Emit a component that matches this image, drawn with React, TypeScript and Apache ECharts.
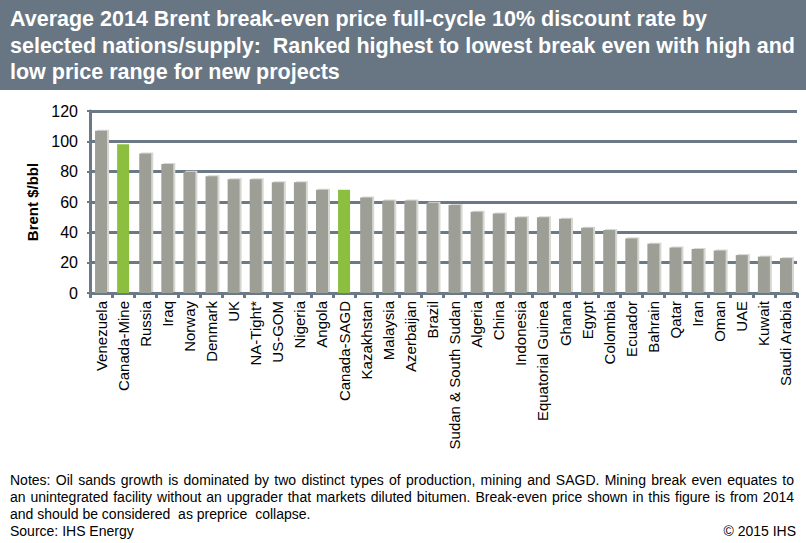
import React, { useEffect, useRef } from "react";
import * as echarts from "echarts";

const categories = [
  "Venezuela", "Canada-Mine", "Russia", "Iraq", "Norway", "Denmark", "UK", "NA-Tight*",
  "US-GOM", "Nigeria", "Angola", "Canada-SAGD", "Kazakhstan", "Malaysia", "Azerbaijan", "Brazil",
  "Sudan & South Sudan", "Algeria", "China", "Indonesia", "Equatorial Guinea", "Ghana", "Egypt", "Colombia",
  "Ecuador", "Bahrain", "Qatar", "Iran", "Oman", "UAE", "Kuwait", "Saudi Arabia",
];
const breakEven = [
  107, 98, 92, 85, 80, 77, 75, 75,
  73, 73, 68, 68, 63, 61, 61, 59.5,
  58, 53.5, 52.5, 50, 50, 49, 43, 41.5,
  36, 32.5, 30, 29, 28, 25, 24, 23,
];
const highlighted = ["Canada-Mine", "Canada-SAGD"];
const yTicks = [0, 20, 40, 60, 80, 100, 120];

const titleText =
  "Average 2014 Brent break-even price full-cycle 10% discount rate by\nselected nations/supply:  Ranked highest to lowest break even with high and\nlow price range for new projects";
const notesLines = [
  "Notes: Oil sands growth is dominated by two distinct types of production, mining and SAGD. Mining break even equates to",
  "an unintegrated facility without an upgrader that markets diluted bitumen. Break-even price shown in this figure is from 2014",
  "and should be considered  as preprice  collapse.",
];
const sourceText = "Source: IHS Energy";
const copyrightText = "© 2015 IHS";

const GRAY = "#9d9f96";
const GREEN = "#8cbf3f";
const AXIS = "#6b7886";
const FONT = "'Liberation Sans', Arial, sans-serif";

function justifiedLine(text: string, x0: number, x1: number, y: number, font: string): any[] {
  const ctx = document.createElement("canvas").getContext("2d");
  const words = text.split(/\s+/);
  if (!ctx) return [];
  ctx.font = font;
  const widths = words.map((w) => ctx.measureText(w).width);
  const total = widths.reduce((a, b) => a + b, 0);
  const gap = (x1 - x0 - total) / (words.length - 1);
  let x = x0;
  return words.map((w, i) => {
    const el = {
      type: "text",
      x,
      y,
      style: { text: w, fill: "#000", font, verticalAlign: "middle" },
    };
    x += widths[i] + gap;
    return el;
  });
}

export default function App() {
  const ref = useRef<HTMLDivElement>(null);
  useEffect(() => {
    if (!ref.current) return;
    const chart = echarts.init(ref.current, undefined, { renderer: "svg" });
    const noteFont = `14px ${FONT}`;
    chart.setOption({
      animation: false,
      textStyle: { fontFamily: FONT },
      grid: { left: 90, right: 9, top: 111, bottom: 250, containLabel: false },
      xAxis: {
        type: "category",
        data: categories,
        axisLine: { lineStyle: { color: AXIS, width: 3 } },
        axisTick: { show: true, length: 5, lineStyle: { color: AXIS, width: 3 } },
        axisLabel: {
          interval: 0,
          rotate: 90,
          color: "#000",
          fontSize: 15,
          fontFamily: FONT,
          margin: 8,
        },
      },
      yAxis: {
        type: "value",
        min: yTicks[0],
        max: yTicks[yTicks.length - 1],
        interval: 20,
        name: "Brent $/bbl",
        nameLocation: "middle",
        nameGap: 50,
        nameRotate: 90,
        nameTextStyle: { color: "#000", fontSize: 15, fontWeight: "bold", fontFamily: FONT },
        axisLine: { show: true, lineStyle: { color: AXIS, width: 3 } },
        axisTick: { show: true, length: 3, lineStyle: { color: AXIS, width: 2 } },
        axisLabel: { color: "#000", fontSize: 16, fontFamily: FONT, margin: 12 },
        splitLine: { show: true, lineStyle: { color: AXIS, width: 3 } },
      },
      series: [
        {
          type: "bar",
          data: breakEven.map((v, i) => {
            const hi = highlighted.includes(categories[i]);
            return {
              value: v,
              itemStyle: hi
                ? { color: GREEN }
                : { color: GRAY, shadowColor: "#d6d7d0", shadowOffsetX: 2, shadowOffsetY: -1, shadowBlur: 0 },
            };
          }),
          barWidth: 12,
        },
      ],
      graphic: [
        {
          type: "rect",
          left: 0,
          top: 0,
          shape: { width: 806, height: 90 },
          style: { fill: "#687684" },
          z: -1,
        },
        {
          type: "text",
          left: 10,
          top: 6,
          style: {
            text: titleText,
            fill: "#fff",
            font: `bold 21.5px ${FONT}`,
            lineHeight: 26.5,
          },
        },
        ...justifiedLine(notesLines[0], 10, 794, 480, noteFont),
        ...justifiedLine(notesLines[1], 10, 794, 497, noteFont),
        {
          type: "text",
          x: 10,
          y: 514,
          style: { text: notesLines[2], fill: "#000", font: noteFont, verticalAlign: "middle" },
        },
        {
          type: "text",
          x: 10,
          y: 531,
          style: { text: sourceText, fill: "#000", font: noteFont, verticalAlign: "middle" },
        },
        {
          type: "text",
          x: 796,
          y: 531,
          style: { text: copyrightText, fill: "#000", font: noteFont, verticalAlign: "middle", align: "right" },
        },
      ],
    });
    return () => chart.dispose();
  }, []);
  return (
    <div
      ref={ref}
      style={{ position: "fixed", left: 0, top: 0, width: 806, height: 543, background: "#fff" }}
    />
  );
}
